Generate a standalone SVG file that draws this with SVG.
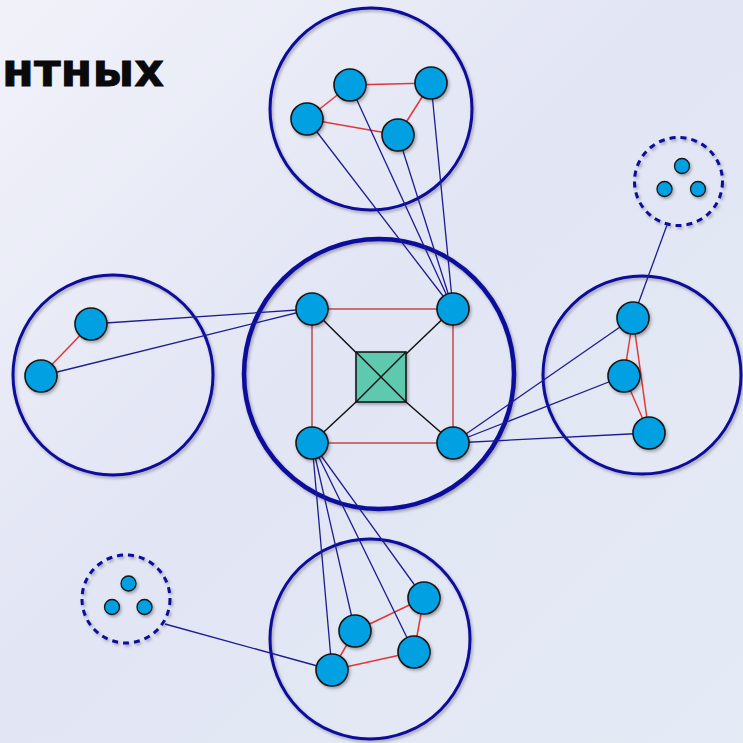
<svg xmlns="http://www.w3.org/2000/svg" width="743" height="743" viewBox="0 0 743 743">
<defs>
<linearGradient id="bg" x1="0" y1="0" x2="1" y2="1">
<stop offset="0" stop-color="#f1f2f9"/>
<stop offset="0.45" stop-color="#e2e5f4"/>
<stop offset="1" stop-color="#e4ebf5"/>
</linearGradient>
<filter id="sh" x="-30%" y="-30%" width="160%" height="160%">
<feDropShadow dx="1.5" dy="2" stdDeviation="1.5" flood-color="#000" flood-opacity="0.3"/>
</filter>
</defs>
<style>
.grp{fill:none;stroke:#0b0b9b;stroke-width:3;filter:url(#sh)}
.main{fill:none;stroke:#0b0b9b;stroke-width:4.5;filter:url(#sh)}
.dash{fill:none;stroke:#0b0b9b;stroke-width:3;stroke-dasharray:6 5;filter:url(#sh)}
.n{fill:#02a0e2;stroke:#161616;stroke-width:1.6;filter:url(#sh)}
.sn{fill:#02a0e2;stroke:#161616;stroke-width:1.3;filter:url(#sh)}
.red{stroke:#e0383a;stroke-width:1.5;fill:none}
.red2{stroke:#c0484c;stroke-width:1.5;fill:none}
.blu{stroke:#1c1c90;stroke-width:1.3;fill:none}
.blk{stroke:#111;stroke-width:1.5;fill:none}
.title{font-family:"DejaVu Sans",sans-serif;font-weight:bold;font-size:46px;fill:#0a0a0a;stroke:#0a0a0a;stroke-width:0.8}
</style>
<rect width="743" height="743" fill="url(#bg)"/>
<text class="title" x="2" y="86" textLength="162" lengthAdjust="spacingAndGlyphs">нтных</text>

<g id="groups">
<circle id="g-main" class="main" cx="379" cy="374" r="135"/>
<circle id="g-top" class="grp" cx="371" cy="109" r="101"/>
<circle id="g-left" class="grp" cx="113" cy="375" r="100"/>
<circle id="g-right" class="grp" cx="642" cy="375" r="99"/>
<circle id="g-bottom" class="grp" cx="370" cy="639" r="100"/>
<circle id="g-dash-tr" class="dash" cx="678.5" cy="181.5" r="44"/>
<circle id="g-dash-bl" class="dash" cx="126" cy="599" r="44"/>
</g>

<g id="connectors">
<line class="red2" x1="312" y1="309" x2="453" y2="309"/>
<line class="red2" x1="312" y1="443" x2="453" y2="443"/>
<line class="red2" x1="312" y1="309" x2="312" y2="443"/>
<line class="red2" x1="453" y1="309" x2="453" y2="443"/>
<line class="blk" x1="312" y1="309" x2="406" y2="402"/>
<line class="blk" x1="453" y1="309" x2="356" y2="402"/>
<line class="blk" x1="312" y1="443" x2="356" y2="402"/>
<line class="blk" x1="453" y1="443" x2="406" y2="402"/>
<line class="red" x1="350" y1="85" x2="431" y2="83"/>
<line class="red" x1="350" y1="85" x2="307" y2="119"/>
<line class="red" x1="307" y1="119" x2="398" y2="135"/>
<line class="red" x1="398" y1="135" x2="431" y2="83"/>
<line class="blu" x1="307" y1="119" x2="453" y2="309"/>
<line class="blu" x1="350" y1="85" x2="453" y2="309"/>
<line class="blu" x1="398" y1="135" x2="453" y2="309"/>
<line class="blu" x1="431" y1="83" x2="453" y2="309"/>
<line class="red" x1="91" y1="324" x2="41" y2="376"/>
<line class="blu" x1="91" y1="324" x2="312" y2="309"/>
<line class="blu" x1="41" y1="376" x2="312" y2="309"/>
<line class="red" x1="633" y1="318" x2="624" y2="376"/>
<line class="red" x1="624" y1="376" x2="649" y2="433"/>
<line class="red" x1="633" y1="318" x2="649" y2="433"/>
<line class="blu" x1="633" y1="318" x2="453" y2="443"/>
<line class="blu" x1="624" y1="376" x2="453" y2="443"/>
<line class="blu" x1="649" y1="433" x2="453" y2="443"/>
<line class="blu" x1="633" y1="318" x2="667" y2="225"/>
<line class="red" x1="355" y1="631" x2="424" y2="598"/>
<line class="red" x1="424" y1="598" x2="414" y2="652"/>
<line class="red" x1="414" y1="652" x2="332" y2="670"/>
<line class="red" x1="332" y1="670" x2="355" y2="631"/>
<line class="blu" x1="312" y1="443" x2="332" y2="670"/>
<line class="blu" x1="312" y1="443" x2="355" y2="631"/>
<line class="blu" x1="312" y1="443" x2="414" y2="652"/>
<line class="blu" x1="312" y1="443" x2="424" y2="598"/>
<line class="blu" x1="165" y1="624" x2="332" y2="670"/>
</g>

<g id="center"><rect class="n" x="356" y="352" width="50" height="50" style="fill:#5fc9b0"/>
<line class="blk" x1="356" y1="352" x2="406" y2="402"/><line class="blk" x1="406" y1="352" x2="356" y2="402"/></g>
<g id="n-in-tl"><circle class="n" cx="312" cy="309" r="16"/></g>
<g id="n-in-tr"><circle class="n" cx="453" cy="309" r="16"/></g>
<g id="n-in-bl"><circle class="n" cx="312" cy="443" r="16"/></g>
<g id="n-in-br"><circle class="n" cx="453" cy="443" r="16"/></g>

<g id="n-t1"><circle class="n" cx="350" cy="85" r="16"/></g>
<g id="n-t2"><circle class="n" cx="431" cy="83" r="16"/></g>
<g id="n-t3"><circle class="n" cx="307" cy="119" r="16"/></g>
<g id="n-t4"><circle class="n" cx="398" cy="135" r="16"/></g>

<g id="n-l1"><circle class="n" cx="91" cy="324" r="16"/></g>
<g id="n-l2"><circle class="n" cx="41" cy="376" r="16"/></g>

<g id="n-r1"><circle class="n" cx="633" cy="318" r="16"/></g>
<g id="n-r2"><circle class="n" cx="624" cy="376" r="16"/></g>
<g id="n-r3"><circle class="n" cx="649" cy="433" r="16"/></g>

<g id="n-b1"><circle class="n" cx="424" cy="598" r="16"/></g>
<g id="n-b2"><circle class="n" cx="355" cy="631" r="16"/></g>
<g id="n-b3"><circle class="n" cx="414" cy="652" r="16"/></g>
<g id="n-b4"><circle class="n" cx="332" cy="670" r="16"/></g>

<g id="n-tr-s1"><circle class="sn" cx="682" cy="166" r="7.5"/></g>
<g id="n-tr-s2"><circle class="sn" cx="664.5" cy="189" r="7.5"/></g>
<g id="n-tr-s3"><circle class="sn" cx="698" cy="189" r="7.5"/></g>

<g id="n-bl-s1"><circle class="sn" cx="128.5" cy="583.5" r="7.5"/></g>
<g id="n-bl-s2"><circle class="sn" cx="112" cy="607" r="7.5"/></g>
<g id="n-bl-s3"><circle class="sn" cx="144.5" cy="607" r="7.5"/></g>
</svg>
